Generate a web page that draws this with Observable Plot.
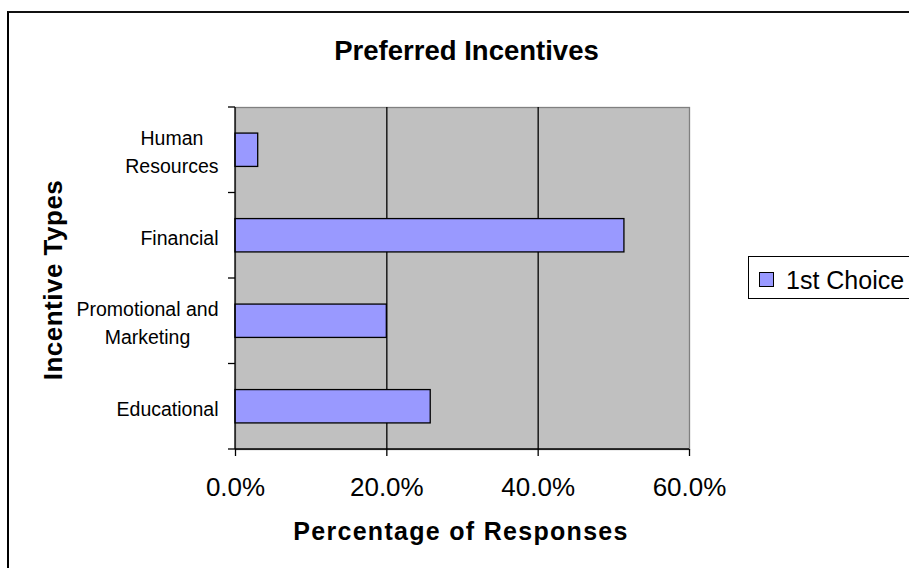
<!DOCTYPE html>
<html>
<head>
<meta charset="utf-8">
<script src="https://cdn.jsdelivr.net/npm/d3@7"></script>
<script src="https://cdn.jsdelivr.net/npm/@observablehq/plot@0.6"></script>
<style>
  html, body { margin: 0; padding: 0; background: #fff; overflow: hidden; }
  #wrap { position: relative; width: 909px; height: 568px; overflow: hidden;
          font-family: Arial, "Liberation Sans", sans-serif; }
  #wrap svg { position: absolute; left: 0; top: 0; }
  #border { position: absolute; left: 7px; top: 11px; width: 1000px; height: 1000px;
            border-left: 2px solid #000; border-top: 2px solid #111; box-sizing: border-box; }
  #legend { position: absolute; left: 748px; top: 256px; width: 220px; height: 43px;
            border: 1.5px solid #000; box-sizing: border-box; background: #fff; }
  #legend-swatch { position: absolute; left: 759px; top: 272px; width: 15px; height: 15px;
                   background: #9999FF; border: 1px solid #000; box-sizing: border-box; }
  #legend-text { position: absolute; left: 786px; top: 268px; font-size: 25px; line-height: 25px;
                 color: #000; white-space: nowrap; }
</style>
</head>
<body>
<div id="wrap"></div>
<script>
// Survey results: share of respondents naming each incentive type as 1st choice (%)
const categories = ["Human Resources", "Financial", "Promotional and Marketing", "Educational"];
const categoryLabels = ["Human\nResources", "Financial", "Promotional and\nMarketing", "Educational"];
const firstChoice = [3.0, 51.4, 20.0, 25.8];
const xTicks = [0, 20, 40, 60];
const seriesName = "1st Choice";

const data = categories.map((c, i) => ({category: c, label: categoryLabels[i], value: firstChoice[i]}));

const FONT = 'Arial, "Liberation Sans", sans-serif';
const BAR_FILL = "#9999FF";
const PLOT_BG = "#C0C0C0";
const LABEL_SIZE = 19.5;

// measure text so multi-line category labels can be centred with their widest line flush right
const ctx = document.createElement("canvas").getContext("2d");
ctx.font = `${LABEL_SIZE}px ${FONT}`;
const lineWidth = (s) => Math.max(...s.split("\n").map(l => ctx.measureText(l).width));

// category ticks sit on the boundaries between bands, plus left and bottom axis lines
function categoryAxis(index, scales, values, dims) {
  const y = scales.y;
  const bw = y.bandwidth ? y.bandwidth() : 0;
  const centers = categories.map(c => y(c) + bw / 2);
  const top = dims.marginTop, bottom = dims.height - dims.marginBottom;
  const left = dims.marginLeft, right = dims.width - dims.marginRight;
  const bounds = [top, ...d3.pairs(centers).map(([a, b]) => (a + b) / 2), bottom];
  const g = d3.create("svg:g").attr("stroke", "#000").attr("stroke-width", 1.3);
  g.selectAll("line.tick").data(bounds).join("line").attr("class", "tick")
    .attr("x1", left - 7).attr("x2", left).attr("y1", d => d).attr("y2", d => d);
  g.append("line").attr("x1", left).attr("x2", left).attr("y1", top).attr("y2", bottom);
  g.append("line").attr("x1", left).attr("x2", right).attr("y1", bottom).attr("y2", bottom);
  return g.node();
}

const labelMarks = data.map(d => {
  const multi = d.label.includes("\n");
  return Plot.text([d], {
    y: "category",
    text: "label",
    frameAnchor: "left",
    textAnchor: multi ? "middle" : "end",
    lineAnchor: "middle",
    dx: multi ? -17 - lineWidth(d.label) / 2 : -17,
    fontSize: LABEL_SIZE,
    lineHeight: 1.45
  });
});

const chart = Plot.plot({
  width: 909,
  height: 568,
  marginLeft: 235,
  marginRight: 220,
  marginTop: 107,
  marginBottom: 119,
  style: {fontFamily: FONT, background: "transparent", overflow: "visible"},
  x: {domain: [0, 60], axis: null},
  y: {domain: categories, paddingInner: 0.61, paddingOuter: 0.305, round: false, axis: null},
  marks: [
    Plot.frame({fill: PLOT_BG, stroke: "#808080", strokeWidth: 1.3}),
    Plot.gridX([20, 40], {stroke: "#000", strokeOpacity: 1, strokeWidth: 1.3}),
    Plot.barX(data, {x: "value", y: "category", fill: BAR_FILL, stroke: "#000", strokeWidth: 1.3}),
    categoryAxis,
    Plot.axisX(xTicks, {
      tickSize: 7,
      tickPadding: 21,
      tickFormat: d => d.toFixed(1) + "%",
      fontSize: 26,
      stroke: "#000",
      strokeWidth: 1.3,
      label: null
    }),
    ...labelMarks,
    Plot.text(["Preferred Incentives"], {
      text: d => d, frameAnchor: "top", textAnchor: "middle", lineAnchor: "middle",
      dx: 4, dy: -56.5, fontSize: 27.5, fontWeight: "bold"
    }),
    Plot.text(["Percentage of Responses"], {
      text: d => d, frameAnchor: "bottom", textAnchor: "middle", lineAnchor: "middle",
      dx: -1.5, dy: 82.3, fontSize: 25, fontWeight: "bold"
    }),
    Plot.text(["Incentive Types"], {
      text: d => d, frameAnchor: "left", textAnchor: "middle", lineAnchor: "middle",
      rotate: -90, dx: -182.3, dy: 1.5, fontSize: 26, fontWeight: "bold"
    })
  ]
});

// letter spacing for the two axis titles
d3.select(chart).selectAll("text")
  .filter(function() { return this.textContent === "Percentage of Responses"; })
  .attr("letter-spacing", "1.3px");
d3.select(chart).selectAll("text")
  .filter(function() { return this.textContent === "Incentive Types"; })
  .attr("letter-spacing", "0.5px");

const wrap = document.getElementById("wrap");
wrap.appendChild(chart);

const border = document.createElement("div");
border.id = "border";
wrap.appendChild(border);

const legend = document.createElement("div");
legend.id = "legend";
wrap.appendChild(legend);
const sw = document.createElement("div");
sw.id = "legend-swatch";
wrap.appendChild(sw);
const lt = document.createElement("div");
lt.id = "legend-text";
lt.textContent = seriesName;
wrap.appendChild(lt);
</script>
</body>
</html>
